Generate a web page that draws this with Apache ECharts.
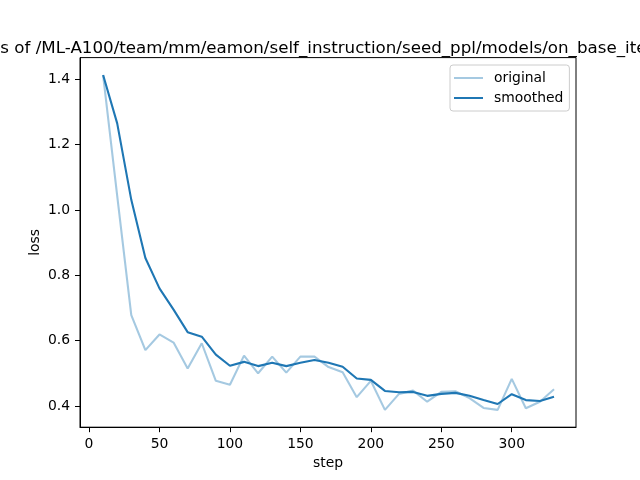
<!DOCTYPE html>
<html>
<head>
<meta charset="utf-8">
<script src="https://cdn.jsdelivr.net/npm/echarts@6/dist/echarts.min.js"></script>
<style>html,body{margin:0;padding:0;background:#fff;}#c{width:640px;height:480px;}</style>
</head>
<body>
<div id="c"></div>
<script>
const titleText = "Loss of /ML-A100/team/mm/eamon/self_instruction/seed_ppl/models/on_base_iter_200";
const steps = [10,20,30,40,50,60,70,80,90,100,110,120,130,140,150,160,170,180,190,200,210,220,230,240,250,260,270,280,290,300,310,320,330];
const original = [1.413,1.043,0.678,0.571,0.619,0.594,0.515,0.592,0.477,0.465,0.554,0.500,0.551,0.502,0.551,0.551,0.519,0.503,0.427,0.477,0.388,0.437,0.447,0.413,0.443,0.445,0.424,0.394,0.388,0.483,0.393,0.413,0.451];
const smoothed = [1.413,1.265,1.031,0.853,0.760,0.695,0.626,0.612,0.557,0.523,0.535,0.522,0.532,0.522,0.532,0.541,0.532,0.520,0.484,0.480,0.446,0.442,0.443,0.431,0.437,0.440,0.431,0.418,0.406,0.436,0.418,0.415,0.428];
const xTicks = [0,50,100,150,200,250,300];
const yTicks = [0.4,0.6,0.8,1.0,1.2,1.4];

const font = 'DejaVu Sans';
const chart = echarts.init(document.getElementById('c'), null, {renderer:'canvas'});
const pair = (xs, ys) => xs.map((x,i)=>[x, ys[i]]);
chart.setOption({
  animation: false,
  backgroundColor: '#fff',
  title: {
    text: titleText,
    left: 328, top: 35,
    textAlign: 'center',
    textStyle: {fontFamily: font, fontSize: 16.7, fontWeight: 'normal', color: '#000'}
  },
  legend: {
    orient: 'vertical',
    left: 450, top: 65,
    padding: [6, 6, 6, 3],
    itemWidth: 29, itemHeight: 14, itemGap: 6,
    itemStyle: {opacity: 0},
    backgroundColor: 'rgba(255,255,255,0.8)',
    borderColor: '#cccccc', borderWidth: 1, borderRadius: 3,
    textStyle: {fontFamily: font, fontSize: 13.9, color: '#000', padding: [0,0,0,6]},
    data: ['original','smoothed']
  },
  grid: {left: 80, right: 64, top: 57.6, bottom: 52.8, show: true, borderColor: '#000', borderWidth: 1, containLabel: false},
  xAxis: {
    type: 'value', min: -6.4, max: 345.6,
    name: 'step', nameLocation: 'middle', nameGap: 29, nameMoveOverlap: false,
    nameTextStyle: {fontFamily: font, fontSize: 13.9, color: '#000'},
    axisLine: {show: true, onZero: false, lineStyle: {color: '#000', width: 1}},
    axisTick: {show: true, length: 5, customValues: xTicks, lineStyle: {color: '#000'}},
    axisLabel: {customValues: xTicks, margin: 10, fontFamily: font, fontSize: 13.9, color: '#000'},
    splitLine: {show: false}
  },
  yAxis: {
    type: 'value', min: 0.335, max: 1.4664,
    name: 'loss', nameLocation: 'middle', nameGap: 38, nameRotate: 90, nameMoveOverlap: false,
    nameTextStyle: {fontFamily: font, fontSize: 13.9, color: '#000'},
    axisLine: {show: true, onZero: false, lineStyle: {color: '#000', width: 1}},
    axisTick: {show: true, length: 5, customValues: yTicks, lineStyle: {color: '#000'}},
    axisLabel: {customValues: yTicks, margin: 10, fontFamily: font, fontSize: 13.9, color: '#000',
      formatter: v => v.toFixed(1)},
    splitLine: {show: false}
  },
  series: [
    {name: 'original', type: 'line', data: pair(steps, original), symbol: 'none', showSymbol: false,
     lineStyle: {color: 'rgba(31,119,180,0.4)', width: 2.1}, itemStyle: {color: 'rgba(31,119,180,0.4)'}},
    {name: 'smoothed', type: 'line', data: pair(steps, smoothed), symbol: 'none', showSymbol: false,
     lineStyle: {color: '#1f77b4', width: 2.1}, itemStyle: {color: '#1f77b4'}}
  ]
});
</script>
</body>
</html>
